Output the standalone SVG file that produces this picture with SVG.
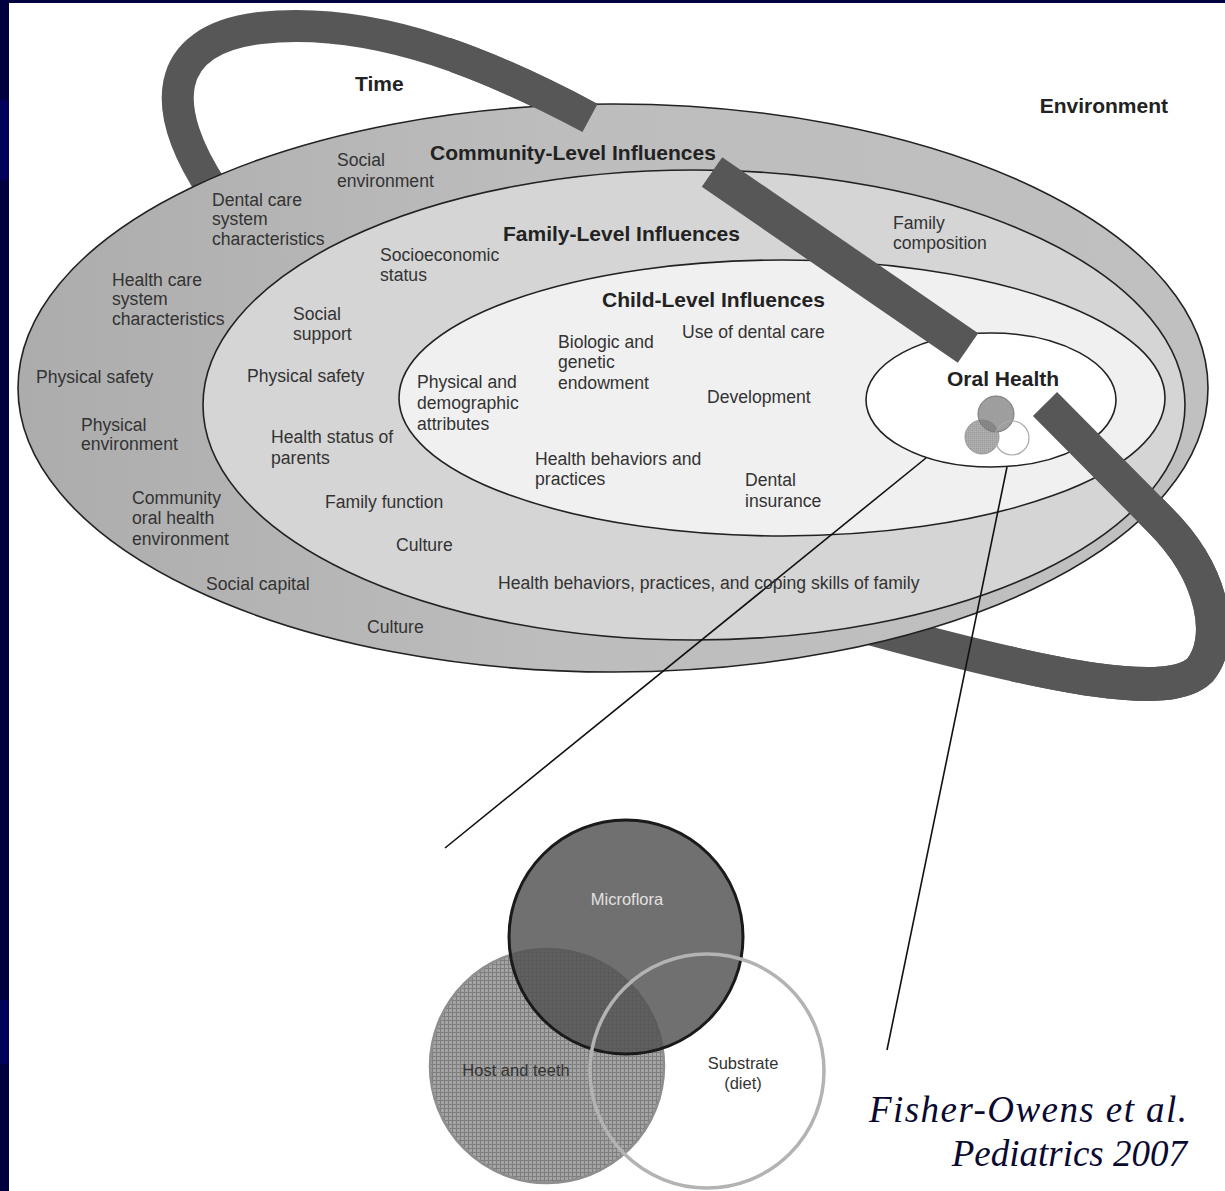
<svg xmlns="http://www.w3.org/2000/svg" width="1225" height="1191" viewBox="0 0 1225 1191">
<style>
.lbl{font-family:"Liberation Sans",Arial,sans-serif;font-size:17.6px;fill:#333}
.ttl{font-family:"Liberation Sans",Arial,sans-serif;font-size:21px;font-weight:bold;fill:#222}
.cite{font-family:"Liberation Serif","Times New Roman",serif;font-size:37px;font-style:italic;fill:#0a0a30}
.ring{stroke:#222;stroke-width:1.6}
.rib{fill:none;stroke:#575757;stroke-linejoin:round}
.lead{stroke:#111;stroke-width:1.6;fill:none}
.vtxt{font-family:"Liberation Sans",Arial,sans-serif;font-size:16.5px;fill:#333;text-anchor:middle}
</style>
<defs>
<pattern id="grid" width="4" height="4" patternUnits="userSpaceOnUse">
<rect width="4" height="4" fill="#a4a4a4"/>
<path d="M0 0.5H4M0.5 0V4" stroke="#7e7e7e" stroke-width="1"/>
</pattern>
<pattern id="grid2" width="2" height="2" patternUnits="userSpaceOnUse">
<rect width="2" height="2" fill="#b8b8b8"/>
<path d="M0 0.5H2M0.5 0V2" stroke="#9c9c9c" stroke-width="0.7"/>
</pattern>
<linearGradient id="outerFill" x1="0" y1="0" x2="1" y2="0">
<stop offset="0" stop-color="#acacac"/>
<stop offset="0.45" stop-color="#bdbdbd"/>
<stop offset="1" stop-color="#c0c0c0"/>
</linearGradient>
<clipPath id="c1"><rect x="450" y="0" width="400" height="300"/></clipPath>
<clipPath id="c3"><rect x="1010" y="0" width="215" height="800"/></clipPath>
</defs>
<rect width="1225" height="1191" fill="#fff"/>
<g id="frame">
<rect x="0" y="0" width="1225" height="3" fill="#000040"/>
<rect x="0" y="0" width="9" height="1191" fill="#000040"/>
<rect x="0" y="100" width="9" height="80" fill="#00005c"/>
<rect x="0" y="1000" width="9" height="64" fill="#00005c"/>
</g>
<g id="time-ribbon-back">
<path class="rib" stroke-width="32" d="M213,190 C160,110 160,40 260,28 C380,15 500,70 590,118"/>
<path class="rib" stroke-width="34" d="M1045,404 L1160,520 C1215,575 1225,640 1200,670 C1170,700 1060,680 870,628"/>
</g>
<g id="community">
<ellipse class="ring" cx="613" cy="388" rx="595" ry="284" fill="url(#outerFill)"/>
</g>
<g id="family">
<ellipse class="ring" cx="694" cy="405" rx="491" ry="235" fill="#d5d5d5"/>
</g>
<g id="child">
<ellipse class="ring" cx="782" cy="398" rx="383" ry="138" fill="#f0f0f0"/>
</g>
<g id="oral-health">
<ellipse class="ring" cx="991" cy="400" rx="125" ry="67" fill="#fff"/>
<circle cx="982" cy="437" r="17" fill="url(#grid2)" stroke="#9a9a9a" stroke-width="1"/>
<circle cx="996" cy="414" r="18" fill="#787878" fill-opacity="0.72" stroke="#777" stroke-width="1"/>
<circle cx="1012" cy="438" r="17" fill="none" stroke="#aaa" stroke-width="1.2"/>
<text class="ttl" x="947" y="386" font-size="20">Oral Health</text>
</g>
<g id="time-ribbon-front">
<path class="rib" stroke-width="32" clip-path="url(#c1)" d="M213,190 C160,110 160,40 260,28 C380,15 500,70 590,118"/>
<path class="rib" stroke-width="36" d="M712,172 L968,348"/>
<path class="rib" stroke-width="34" clip-path="url(#c3)" d="M1045,404 L1160,520 C1215,575 1225,640 1200,670 C1170,700 1060,680 870,628"/>
</g>
<g id="connectors">
<line class="lead" x1="926" y1="458" x2="445" y2="848"/>
<line class="lead" x1="1007" y1="467" x2="887" y2="1050"/>
</g>
<g id="labels">
<text class="ttl" x="355" y="91" font-size="20">Time</text>
<text class="ttl" x="1168" y="113" text-anchor="end" font-size="20">Environment</text>
<text class="ttl" x="430" y="160">Community-Level Influences</text>
<text class="ttl" x="503" y="241">Family-Level Influences</text>
<text class="ttl" x="602" y="307">Child-Level Influences</text>
<text class="lbl" x="337" y="166">Social</text>
<text class="lbl" x="337" y="187">environment</text>
<text class="lbl" x="212" y="206">Dental care</text>
<text class="lbl" x="212" y="225">system</text>
<text class="lbl" x="212" y="245">characteristics</text>
<text class="lbl" x="112" y="286">Health care</text>
<text class="lbl" x="112" y="305">system</text>
<text class="lbl" x="112" y="325">characteristics</text>
<text class="lbl" x="36" y="383">Physical safety</text>
<text class="lbl" x="81" y="431">Physical</text>
<text class="lbl" x="81" y="450">environment</text>
<text class="lbl" x="132" y="504">Community</text>
<text class="lbl" x="132" y="524">oral health</text>
<text class="lbl" x="132" y="545">environment</text>
<text class="lbl" x="206" y="590">Social capital</text>
<text class="lbl" x="367" y="633">Culture</text>
<text class="lbl" x="893" y="229">Family</text>
<text class="lbl" x="893" y="249">composition</text>
<text class="lbl" x="380" y="261">Socioeconomic</text>
<text class="lbl" x="380" y="281">status</text>
<text class="lbl" x="293" y="320">Social</text>
<text class="lbl" x="293" y="340">support</text>
<text class="lbl" x="247" y="382">Physical safety</text>
<text class="lbl" x="271" y="443">Health status of</text>
<text class="lbl" x="271" y="464">parents</text>
<text class="lbl" x="325" y="508">Family function</text>
<text class="lbl" x="396" y="551">Culture</text>
<text class="lbl" x="498" y="589">Health behaviors, practices, and coping skills of family</text>
<text class="lbl" x="558" y="348">Biologic and</text>
<text class="lbl" x="558" y="368">genetic</text>
<text class="lbl" x="558" y="389">endowment</text>
<text class="lbl" x="682" y="338">Use of dental care</text>
<text class="lbl" x="417" y="388">Physical and</text>
<text class="lbl" x="417" y="409">demographic</text>
<text class="lbl" x="417" y="430">attributes</text>
<text class="lbl" x="707" y="403">Development</text>
<text class="lbl" x="535" y="465">Health behaviors and</text>
<text class="lbl" x="535" y="485">practices</text>
<text class="lbl" x="745" y="486">Dental</text>
<text class="lbl" x="745" y="507">insurance</text>
</g>
<g id="venn">
<g id="host">
<circle cx="547" cy="1066" r="117" fill="url(#grid)" stroke="#8e8e8e" stroke-width="2.5"/>
</g>
<g id="microflora">
<circle cx="626" cy="937" r="117" fill="#505050" fill-opacity="0.82" stroke="#1a1a1a" stroke-width="3"/>
</g>
<g id="substrate">
<circle cx="707" cy="1071" r="117" fill="none" stroke="#b3b3b3" stroke-width="3.5"/>
</g>
<text class="vtxt" x="627" y="905" style="fill:#e2e2e2">Microflora</text>
<text class="vtxt" x="516" y="1076">Host and teeth</text>
<text class="vtxt" x="743" y="1069">Substrate</text>
<text class="vtxt" x="743" y="1089">(diet)</text>
</g>
<g id="citation">
<text class="cite" x="1187" y="1122" text-anchor="end" textLength="318" lengthAdjust="spacing">Fisher-Owens et al.</text>
<text class="cite" x="1187" y="1166" text-anchor="end">Pediatrics 2007</text>
</g>
</svg>
